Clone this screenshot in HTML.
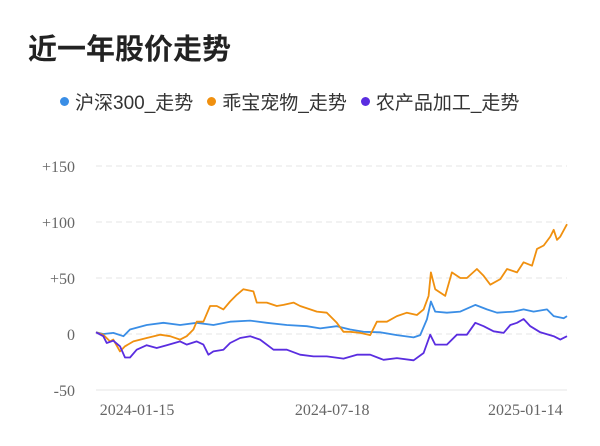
<!DOCTYPE html>
<html><head><meta charset="utf-8"><style>
body{margin:0;width:600px;height:446px;background:#fff;overflow:hidden;font-family:"Liberation Sans","Noto Sans CJK SC",sans-serif}
#title{position:absolute;left:28px;top:26px;font-size:29px;font-weight:bold;color:#222}
#legend{position:absolute;left:60px;top:88px;font-size:19px;color:#333;display:flex;gap:14px}
.li{display:flex;align-items:center}
.dot{width:9px;height:9px;border-radius:50%;margin-right:6px;display:inline-block}
svg{position:absolute;left:0;top:0}
</style></head><body>
<div id="title">近一年股价走势</div>
<div id="legend">
<span class="li"><span class="dot" style="background:#3a8ee6"></span>沪深300_走势</span>
<span class="li"><span class="dot" style="background:#f0900f"></span>乖宝宠物_走势</span>
<span class="li"><span class="dot" style="background:#5a2de0"></span>农产品加工_走势</span>
</div>
<svg id="chart" width="600" height="446"></svg>
<script>
const yTicks=[150,100,50,0,-50];
const yTickLabels=["+150","+100","+50","0","-50"];
const xTickPos=[171,756,1335];
const xTickLabels=["2024-01-15","2024-07-18","2025-01-14"];
const blueT=[48,70,100,130,150,200,250,300,350,400,450,510,560,620,680,720,770,810,850,900,950,1000,1020,1040,1052,1065,1100,1140,1185,1220,1250,1300,1330,1360,1400,1420,1450,1460];
const blueV=[1.5,0,1,-2,4,8,10,8,10,8,11,12,10,8,7,5,7,4,2,1.5,-1,-3,-1,13,29,20,19,20,26,22,19,20,22,20,22,16,14,16];
const orangeT=[48,70,90,100,120,135,160,200,240,270,300,320,340,350,370,390,410,430,450,470,490,520,530,560,590,610,640,660,690,710,740,770,790,810,840,870,890,920,950,980,1010,1030,1045,1052,1065,1095,1115,1140,1160,1190,1210,1230,1260,1280,1310,1330,1355,1370,1390,1410,1420,1430,1440,1460];
const orangeV=[1.5,-0.6,-6.6,-5,-15.5,-11,-6.6,-3.6,-0.6,-2,-5,-2,4,11,11,25,25,22,29,35,40,38,28,28,25,26,28,25,22,20,19,10,2,2,1,-1,11,11,16,19,17,22,34,55,40,34,55,50,50,58,52,44,49,58,55,64,61,76,79,87,93,84,87,98];
const purpleT=[48,70,80,100,120,135,150,170,200,230,260,300,320,350,370,385,400,430,450,480,510,540,580,620,660,700,740,790,830,870,910,950,1000,1030,1050,1065,1100,1130,1160,1185,1210,1240,1270,1290,1310,1330,1350,1380,1420,1440,1460];
const purpleV=[1.5,-2,-8,-6,-11,-21,-21,-14,-10,-12.5,-10,-6.6,-9.5,-6.6,-9.5,-18.5,-15.5,-14,-8,-3.6,-2,-5,-14,-14,-18.5,-20,-20,-22,-18.5,-18.5,-23,-21.5,-23.5,-17,-0.6,-9.5,-9.5,-0.6,-0.6,10,7,2.4,1,8,10,13.4,7,1.5,-2,-5,-2];
const svg=document.getElementById('chart');
const NS='http://www.w3.org/2000/svg';
const x=t=>96+(t-48)*(567-96)/(1460-48);
const y=v=>334-v*1.12;
function mk(tag,attrs){const e=document.createElementNS(NS,tag);for(const k in attrs)e.setAttribute(k,attrs[k]);svg.appendChild(e);return e;}
yTicks.forEach((v,i)=>{
 const g=mk('line',{x1:96,x2:567,y1:y(v),y2:y(v),stroke:'#e6e6e6','stroke-width':1,'stroke-dasharray':v===-50?'':'6,4'});
 
 
 const t=mk('text',{x:75,y:y(v)+6,'text-anchor':'end','font-size':16,fill:'#666','font-family':'Liberation Serif,serif'});
 t.textContent=yTickLabels[i];
 
 
});
xTickPos.forEach((p,i)=>{
 const t=mk('text',{x:x(p),y:415,'text-anchor':'middle','font-size':16,fill:'#666','font-family':'Liberation Serif,serif'});
 t.textContent=xTickLabels[i];
 
 
});
function line(T,V,c,name){
 const d=T.map((t,i)=>(i?'L':'M')+x(t).toFixed(1)+','+y(V[i]).toFixed(1)).join('');
 const p=mk('path',{d:d,fill:'none',stroke:c,'stroke-width':1.8,'stroke-linejoin':'round'});
 
 
}
line(blueT,blueV,'#3a8ee6','line-hs300');
line(orangeT,orangeV,'#f0900f','line-guaibao');
line(purpleT,purpleV,'#5a2de0','line-nongchanpin');
</script>
</body></html>
